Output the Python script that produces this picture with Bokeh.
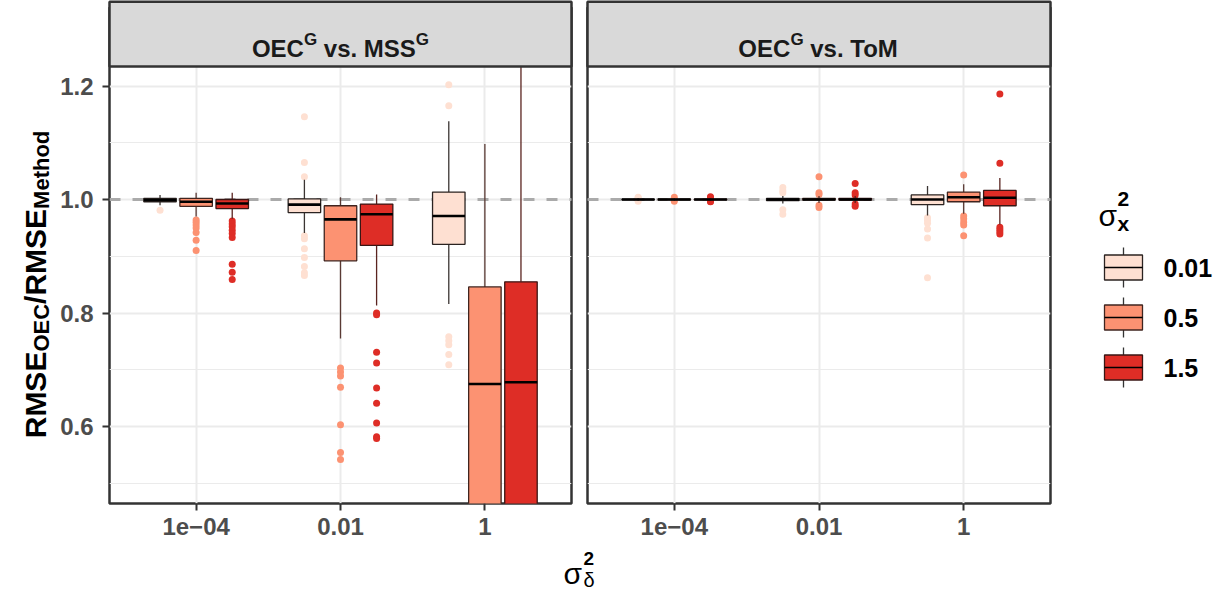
from bokeh.plotting import figure
from bokeh.layouts import row, column
from bokeh.models import Range1d, FixedTicker, ColumnDataSource, Span, PrintfTickFormatter
from bokeh.embed import file_html
from bokeh.resources import INLINE
from bokeh.core.properties import value

# ---------------- data ----------------
categories = ["1e\u221204", "0.01", "1"]          # sigma_delta^2
groups = ["0.01", "0.5", "1.5"]                    # sigma_x^2
fills = ["#FEE0D2", "#FC9272", "#DE2D26"]
edges = ["#2b2321", "#3f241f", "#3a1614"]
whisk = ["#3b3533", "#5a3a34", "#5a2420"]

# OEC^G vs. MSS^G  (rows: sigma_delta^2 category, cols: sigma_x^2 group)
mss_lower = [[0.990, 0.970, 0.966], [0.941, 0.755, 0.813], [0.816, 0.20, 0.20]]
mss_q1 = [[0.996, 0.988, 0.984], [0.977, 0.892, 0.919], [0.921, 0.40, 0.40]]
mss_median = [[0.999, 0.996, 0.993], [0.991, 0.965, 0.974], [0.971, 0.675, 0.678]]
mss_q3 = [[1.002, 1.002, 1.000], [1.001, 0.989, 0.992], [1.013, 0.846, 0.855]]
mss_upper = [[1.008, 1.012, 1.012], [1.035, 1.004, 1.009], [1.138, 1.098, 1.300]]
mss_outliers = [
    [[0.981],
     [0.964, 0.960, 0.955, 0.950, 0.942, 0.928, 0.910],
     [0.962, 0.957, 0.952, 0.946, 0.940, 0.933, 0.886, 0.872, 0.859]],
    [[1.146, 1.065, 1.040, 0.936, 0.931, 0.913, 0.898, 0.882, 0.871, 0.866],
     [0.703, 0.696, 0.689, 0.669, 0.603, 0.554, 0.542],
     [0.800, 0.797, 0.731, 0.712, 0.668, 0.641, 0.606, 0.582, 0.579]],
    [[1.202, 1.165, 0.758, 0.751, 0.744, 0.727, 0.709], [], []],
]

# OEC^G vs. ToM
tom_lower = [[0.998, 0.998, 0.998], [0.993, 0.994, 0.994], [0.972, 0.975, 0.956]]
tom_q1 = [[0.9995, 0.9995, 0.9995], [0.998, 0.999, 0.999], [0.991, 0.996, 0.989]]
tom_median = [[1.000, 1.000, 1.000], [1.000, 1.000, 1.000], [1.000, 1.004, 1.003]]
tom_q3 = [[1.0005, 1.0005, 1.0005], [1.002, 1.002, 1.002], [1.008, 1.013, 1.016]]
tom_upper = [[1.002, 1.002, 1.002], [1.006, 1.006, 1.006], [1.024, 1.027, 1.038]]
tom_outliers = [
    [[1.004, 1.003, 0.997], [1.004, 0.997], [1.005, 1.003, 0.997, 0.996]],
    [[1.021, 1.016, 1.012, 0.982, 0.974],
     [1.040, 1.012, 1.009, 0.990, 0.986],
     [1.028, 1.012, 1.008, 0.992, 0.988]],
    [[0.968, 0.963, 0.958, 0.948, 0.932, 0.862],
     [1.043, 0.971, 0.966, 0.960, 0.955, 0.936],
     [1.186, 1.064, 0.951, 0.947, 0.943, 0.939]],
]

y_major = [0.6, 0.8, 1.0, 1.2]
y_minor = [0.5, 0.7, 0.9, 1.1]

# ---------------- layout constants ----------------
FONT = "Liberation Sans"
BT, BB = 7, 42                       # top / bottom borders of the panel row
ROW_H = 545
FRAME_TOP, FRAME_BOT = BT, ROW_H - BB
K = 0.4 / 227.0                      # data units per pixel (vertical)
def ypx(page_y):                     # page pixel -> data y of panel
    return 1.0 + (199 - page_y) * K
Y_TOP = ypx(FRAME_TOP)
Y_BOT = ypx(FRAME_BOT)
STRIP_BOTTOM = ypx(66)

W_BOLD = {'O': .778, 'E': .667, 'C': .722, 'G': .778, ' ': .278, 'v': .556, 's': .556,
          '.': .278, 'M': .833, 'S': .667, 'T': .611, 'o': .611, 'R': .722, '/': .278,
          'e': .556, 't': .333, 'h': .611, 'd': .611, 'x': .556}
def tw(s, size):
    return sum(W_BOLD.get(c, 0.6) for c in s) * size


def build_sources(lower, q1, med, q3, upper, outl):
    box = dict(x=[], left=[], right=[], q1=[], q3=[], med=[], lo=[], hi=[], fill=[], edge=[], wc=[])
    pts = dict(x=[], y=[], c=[])
    for ci in range(len(categories)):
        for gi in range(len(groups)):
            x = (ci + 1) + (gi - 1) * 0.25
            box["x"].append(x)
            box["left"].append(x - 0.1125)
            box["right"].append(x + 0.1125)
            box["q1"].append(q1[ci][gi])
            box["q3"].append(q3[ci][gi])
            box["med"].append(med[ci][gi])
            box["lo"].append(lower[ci][gi])
            box["hi"].append(upper[ci][gi])
            box["fill"].append(fills[gi])
            box["edge"].append(edges[gi])
            box["wc"].append(whisk[gi])
            for v in outl[ci][gi]:
                pts["x"].append(x)
                pts["y"].append(v)
                pts["c"].append(fills[gi])
    return ColumnDataSource(box), ColumnDataSource(pts)


def make_panel(stats, show_y, strip_pieces, width, min_left, min_right):
    p = figure(width=width, height=ROW_H, x_range=Range1d(0.4, 3.6), y_range=Range1d(Y_BOT, Y_TOP),
               output_backend="svg", toolbar_location=None, title=None,
               min_border_left=min_left, min_border_right=min_right,
               min_border_top=BT, min_border_bottom=BB)
    p.background_fill_color = "white"
    p.border_fill_color = "white"
    p.outline_line_color = "#333333"
    p.outline_line_width = 2.5

    p.xaxis.ticker = FixedTicker(ticks=[1, 2, 3])
    p.xaxis.major_label_overrides = {1: categories[0], 2: categories[1], 3: categories[2]}
    p.yaxis.ticker = FixedTicker(ticks=y_major, minor_ticks=y_minor)
    p.yaxis.formatter = PrintfTickFormatter(format="%.1f")
    for ax in (p.xaxis, p.yaxis):
        ax.axis_line_color = None
        ax.major_tick_line_color = "#333333"
        ax.major_tick_line_width = 2
        ax.major_tick_out = 7
        ax.major_tick_in = 0
        ax.minor_tick_line_color = None
        ax.major_label_text_font = FONT
        ax.major_label_text_font_style = "bold"
        ax.major_label_text_font_size = "24px"
        ax.major_label_text_color = "#4D4D4D"
    p.xaxis.major_label_standoff = 7
    p.yaxis.major_label_standoff = 9
    if not show_y:
        p.yaxis.visible = False

    p.xgrid.ticker = FixedTicker(ticks=[1, 2, 3])
    p.ygrid.ticker = FixedTicker(ticks=y_major, minor_ticks=y_minor)
    p.xgrid.grid_line_color = "#EBEBEB"
    p.xgrid.grid_line_width = 2
    p.ygrid.grid_line_color = "#EBEBEB"
    p.ygrid.grid_line_width = 2
    p.ygrid.minor_grid_line_color = "#EBEBEB"
    p.ygrid.minor_grid_line_width = 1

    p.add_layout(Span(location=1.0, dimension="width", line_color="#AAAAAA",
                      line_width=3, line_dash="11 12", level="underlay"))

    box, pts = build_sources(*stats)
    p.scatter("x", "y", source=pts, size=7, fill_color="c", line_color=None)
    p.segment("x", "q3", "x", "hi", source=box, line_color="wc", line_width=1.3)
    p.segment("x", "lo", "x", "q1", source=box, line_color="wc", line_width=1.3)
    p.quad(left="left", right="right", bottom="q1", top="q3", source=box,
           fill_color="fill", line_color="edge", line_width=1.3)
    p.segment("left", "med", "right", "med", source=box, line_color="black", line_width=2.6)

    # facet strip
    p.quad(left=0.4, right=3.6, bottom=STRIP_BOTTOM, top=Y_TOP + 0.01, fill_color="#D9D9D9",
           line_color="#333333", line_width=2.5, level="overlay")
    frame_w = width - min_left - min_right
    dx = 3.2 / frame_w
    total = sum(tw(s, sz) for s, sz, sup in strip_pieces)
    cur = 2.0 - total / 2 * dx
    for s, sz, sup in strip_pieces:
        lead = len(s) - len(s.lstrip(" "))
        shown = s.strip(" ")
        if shown:
            p.text(x=[cur + tw(" " * lead, sz) * dx], y=[ypx(39) if sup else ypx(48)], text=[shown],
                   text_font=value(FONT), text_font_style="bold", text_font_size=f"{sz}px",
                   text_color="#1A1A1A", text_align="left", text_baseline="alphabetic",
                   level="overlay")
        cur += tw(s, sz) * dx
    return p


def pixel_fig(w, h, y0, y1, bt=0, bb=0):
    """A blank figure whose data coordinates equal page pixels (y grows downward)."""
    f = figure(width=w, height=h, x_range=Range1d(0, w), y_range=Range1d(y1, y0),
               output_backend="svg", toolbar_location=None, title=None,
               x_axis_location=None, y_axis_location=None,
               min_border_left=0, min_border_right=0,
               min_border_top=bt, min_border_bottom=bb)
    f.grid.visible = False
    f.outline_line_color = None
    f.background_fill_color = "white"
    f.border_fill_color = "white"
    return f


left = make_panel((mss_lower, mss_q1, mss_median, mss_q3, mss_upper, mss_outliers), True,
                  [("OEC", 24, False), ("G", 17, True), (" vs. MSS", 24, False), ("G", 17, True)],
                  width=525, min_left=55, min_right=8)
right = make_panel((tom_lower, tom_q1, tom_median, tom_q3, tom_upper, tom_outliers), False,
                   [("OEC", 24, False), ("G", 17, True), (" vs. ToM", 24, False)],
                   width=473, min_left=8, min_right=2)

# ---------------- y-axis title (rotated, with subscripts) ----------------
ytitle = pixel_fig(54, ROW_H, FRAME_TOP, FRAME_BOT, BT, BB)
pieces = [("RMSE", 30, False), ("OEC", 22, True), ("/RMSE", 30, False), ("Method", 22, True)]
total = sum(tw(s, sz) for s, sz, sub in pieces)
cur = 284 + total / 2
for s, sz, sub in pieces:
    ytitle.text(x=[41 if sub else 35], y=[cur], text=[s], angle=1.5707963,
                text_font=value(FONT), text_font_style="bold", text_font_size=f"{sz}px",
                text_color="black", text_align="left", text_baseline="alphabetic")
    cur -= tw(s, sz)

# ---------------- legend ----------------
LX = 1052
legend = pixel_fig(165, ROW_H, FRAME_TOP, FRAME_BOT, BT, BB)
legend.text(x=[1098 - LX], y=[215], text=["\u03c3"], text_font=value(FONT), text_font_size="30px",
            text_color="black", text_baseline="alphabetic")
legend.text(x=[1117 - LX], y=[198], text=["2"], text_font=value(FONT), text_font_style="bold",
            text_font_size="21px", text_color="black", text_baseline="alphabetic")
legend.text(x=[1117 - LX], y=[223], text=["x"], text_font=value(FONT), text_font_style="bold",
            text_font_size="21px", text_color="black", text_baseline="alphabetic")
for gi, g in enumerate(groups):
    cy = 267 + 50 * gi
    cx = 1123 - LX
    legend.segment(x0=[cx], y0=[cy - 20], x1=[cx], y1=[cy - 12.5], line_color="#333333", line_width=1.3)
    legend.segment(x0=[cx], y0=[cy + 12.5], x1=[cx], y1=[cy + 20], line_color="#333333", line_width=1.3)
    legend.quad(left=[1104 - LX], right=[1142 - LX], top=[cy - 12.5], bottom=[cy + 12.5],
                fill_color=fills[gi], line_color=edges[gi], line_width=1.3)
    legend.segment(x0=[1104 - LX], y0=[cy], x1=[1142 - LX], y1=[cy], line_color="black", line_width=1.6)
    legend.text(x=[1163 - LX], y=[cy], text=[g], text_font=value(FONT), text_font_style="bold",
                text_font_size="25px", text_color="black", text_baseline="middle")

# ---------------- x-axis title ----------------
XT_TOP = ROW_H
SHIFT = 9                       # compensation for the offset of the lower strip
xtitle = pixel_fig(1217, 47, XT_TOP, XT_TOP + 47)
xtitle.text(x=[563], y=[582 - SHIFT], text=["\u03c3"], text_font=value(FONT), text_font_size="30px",
            text_color="black", text_baseline="alphabetic")
xtitle.text(x=[583], y=[567 - SHIFT], text=["2"], text_font=value(FONT), text_font_style="bold",
            text_font_size="19px", text_color="black", text_baseline="alphabetic")
xtitle.text(x=[583], y=[588 - SHIFT], text=["\u03b4"], text_font=value(FONT), text_font_size="20px",
            text_color="black", text_baseline="alphabetic")

p = column(row(ytitle, left, right, legend), xtitle)
open("out.html", "w").write(file_html(p, INLINE))
